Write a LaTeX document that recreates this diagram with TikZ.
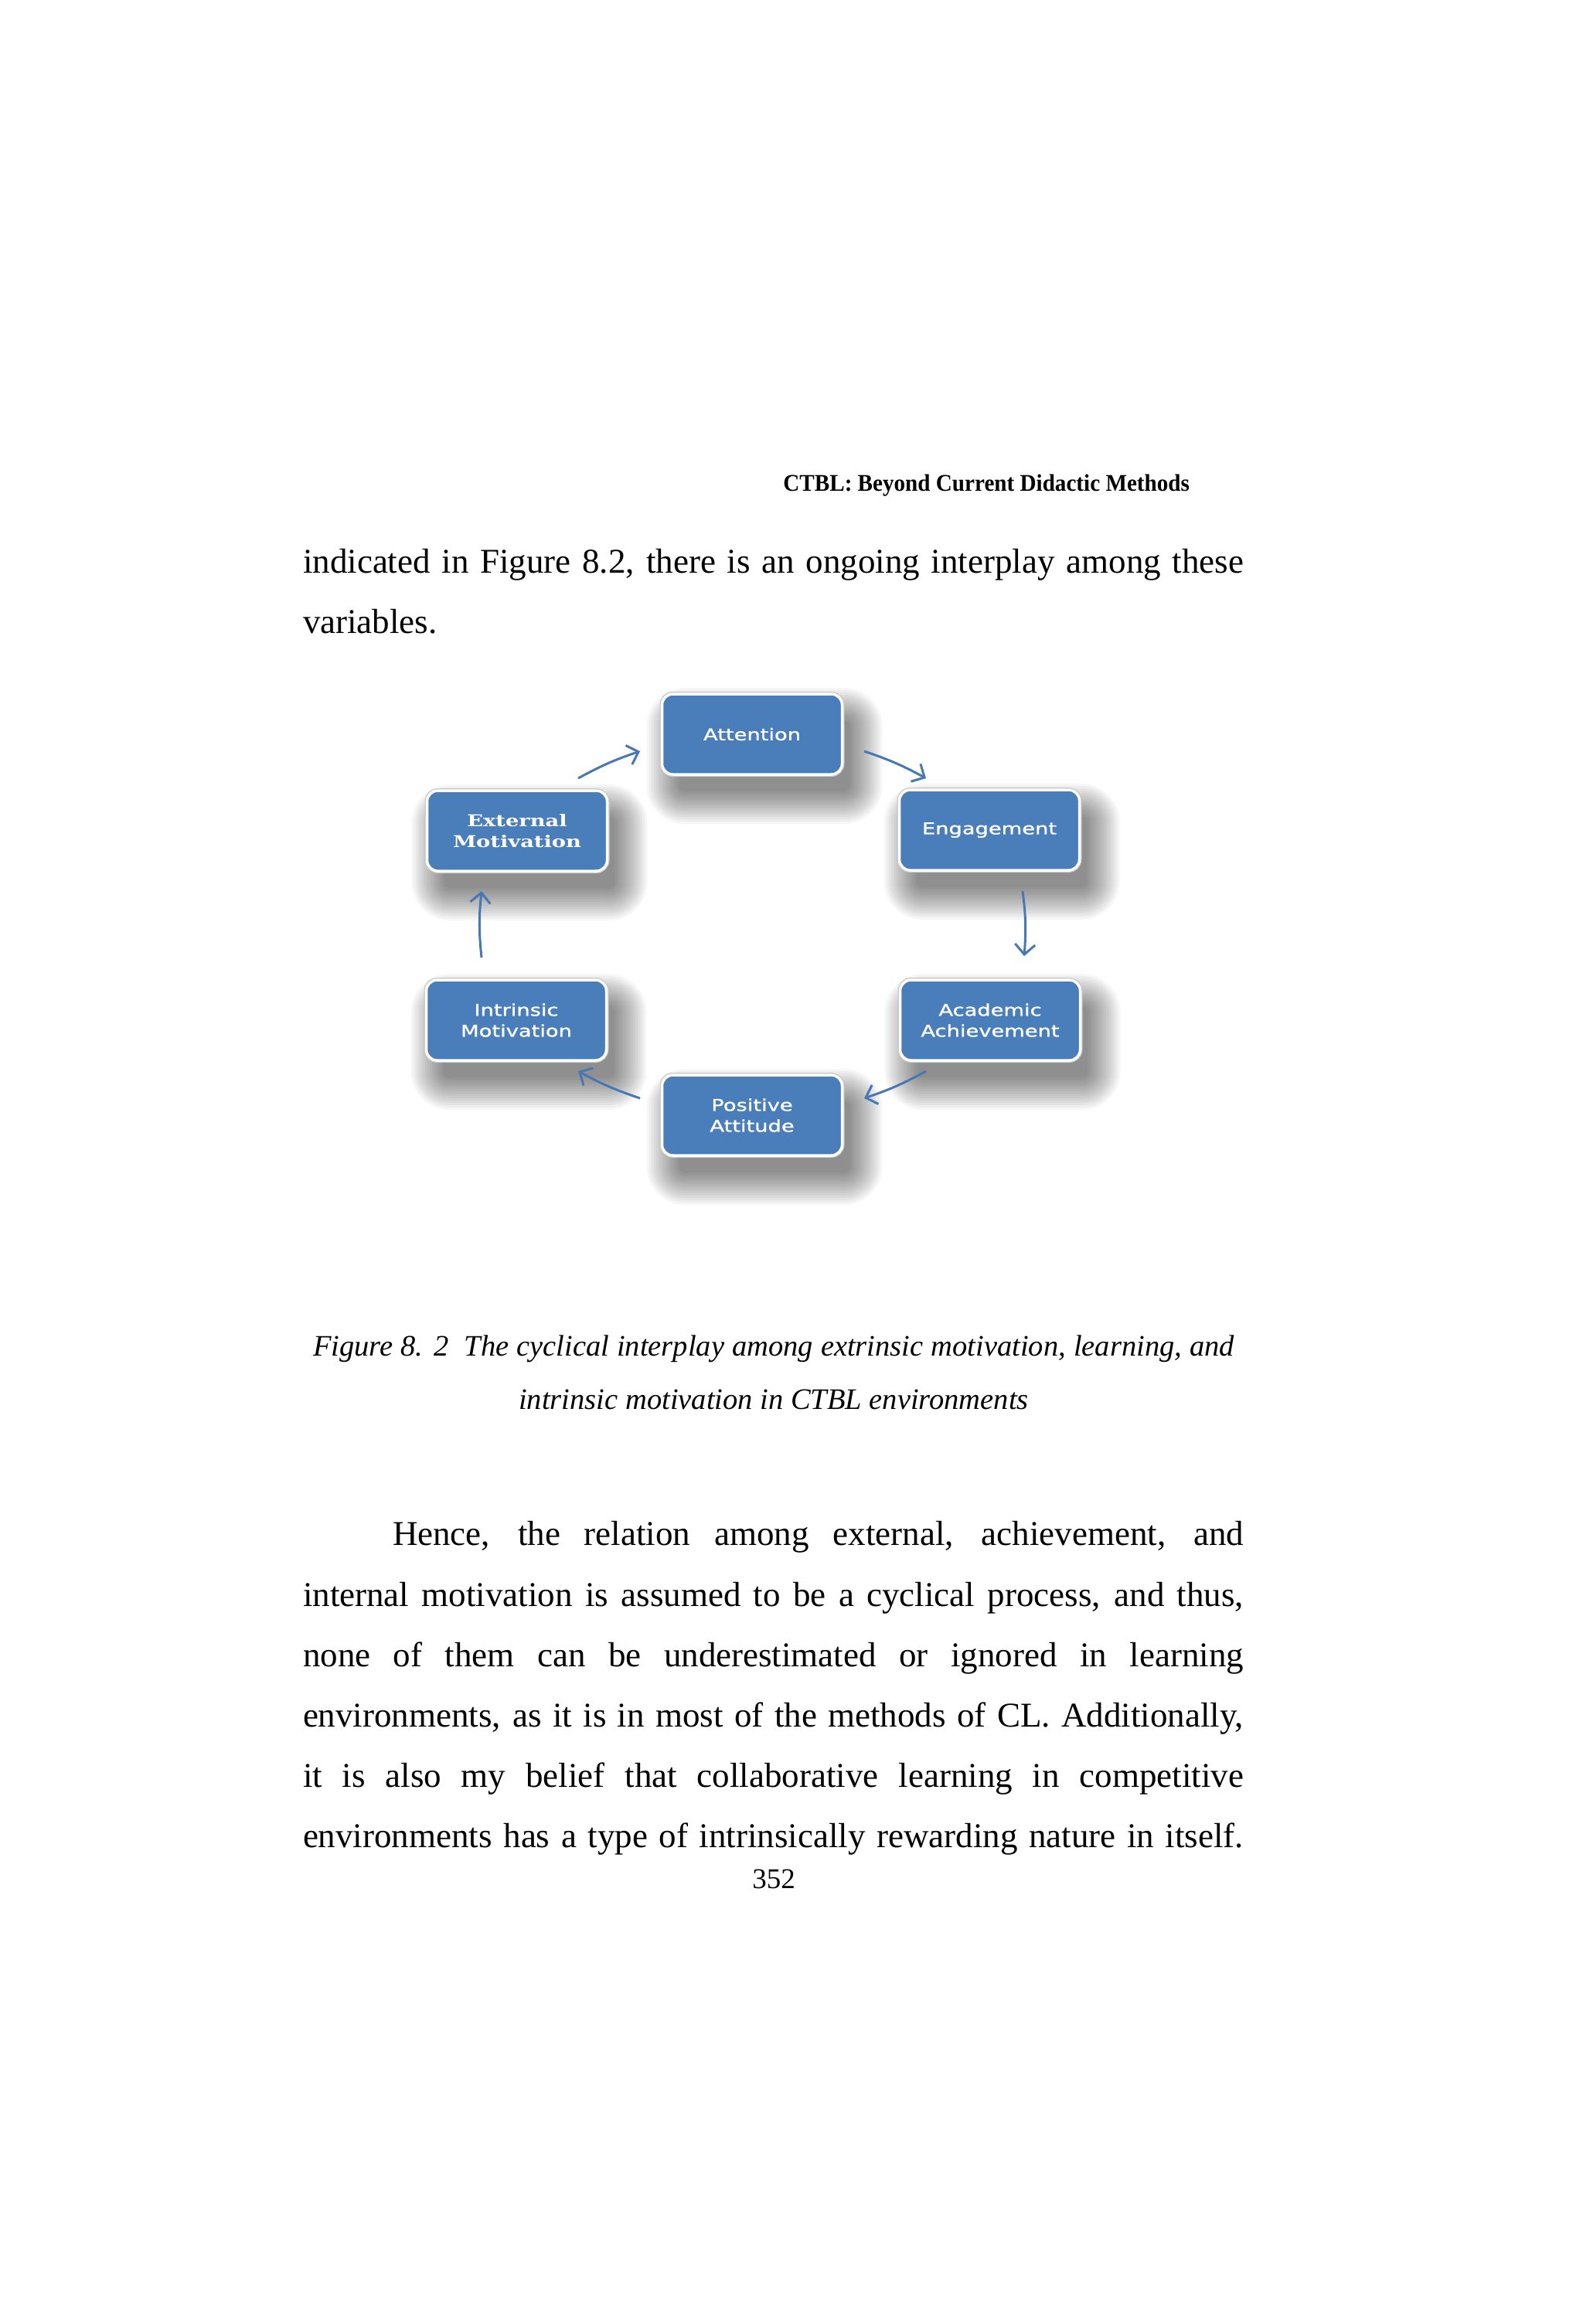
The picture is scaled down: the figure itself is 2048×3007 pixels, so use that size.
\documentclass[tikz,border=0pt]{standalone}
\usepackage{fontspec}
\setmainfont{Liberation Serif}
\newfontfamily\boxsans[FakeStretch=1.3,FakeBold=1.2]{DejaVu Sans}
\newfontfamily\boxserif[FakeStretch=1.3]{DejaVu Serif}
\newfontfamily\headfont[FakeStretch=0.94]{Liberation Serif}
\usetikzlibrary{arrows.meta}
\definecolor{boxblue}{RGB}{74,126,187}
\definecolor{arrowblue}{RGB}{72,120,180}
\pgfdeclarelayer{paper}
\pgfdeclarelayer{shade}
\pgfsetlayers{paper,shade,main}
\begin{document}
\begin{tikzpicture}[x=1pt,y=-1pt,
  every node/.style={inner sep=0pt,outer sep=0pt},
  body/.style={anchor=base west,font=\fontsize{45}{54}\selectfont},
  captext/.style={anchor=base,font=\itshape\fontsize{38.5}{46}\selectfont},
  stage/.style={rounded corners=14pt, minimum width=233pt, minimum height=104pt,
     preaction={draw=black!22, line width=6pt},
     fill=boxblue, draw=white, line width=3.5pt, text=white, align=center,
     font=\boxsans\fontsize{21}{27}\selectfont},
  shadelayer/.style={fill=black, opacity=0.035},
  cyc/.style={draw=arrowblue, line width=3pt, -{Straight Barb[length=13pt,width=26pt]}}
]
\begin{pgfonlayer}{paper}
\fill[white] (0,0) rectangle (2048,3007);
\end{pgfonlayer}
\useasboundingbox (0,0) rectangle (2048,3007);

% header
\node[anchor=base east, font=\headfont\bfseries\fontsize{31}{36}\selectfont] (hdr) at (1539,635) {CTBL: Beyond Current Didactic Methods};

% first paragraph
\node[body] (p1) at (392,741) {\makebox[1217pt][s]{indicated in Figure 8.2, there is an ongoing interplay among these}};
\node[body] (p2) at (392,819) {variables.};

% diagram
\node[stage] (att) at (973,950) {Attention};
\node[stage] (eng) at (1280,1074) {Engagement};
\node[stage] (acad) at (1281,1320) {Academic\\Achievement};
\node[stage] (pos) at (973,1443) {Positive\\Attitude};
\node[stage] (intr) at (668,1320) {Intrinsic\\Motivation};
\node[stage, font=\boxserif\bfseries\fontsize{21}{27}\selectfont] (ext) at (669,1075) {External\\Motivation};

\begin{pgfonlayer}{shade}
\foreach \n in {att,eng,acad,pos,intr,ext}{
  \foreach \e in {-6,-3,...,36}{
    \pgfmathsetmacro\rc{max(3,14+\e)}
    \fill[shadelayer, rounded corners=\rc pt]
      ([shift={(16-\e,28+\e)}]\n.south west) rectangle ([shift={(16+\e,28-\e)}]\n.north east);
  }
}
\end{pgfonlayer}

\coordinate (a1s) at (748,1007);  \coordinate (a1e) at (828,972);
\coordinate (a2s) at (1118,972);  \coordinate (a2e) at (1198,1007);
\coordinate (a3s) at (1323,1153); \coordinate (a3e) at (1325,1237);
\coordinate (a4s) at (1198,1386); \coordinate (a4e) at (1118,1421);
\coordinate (a5s) at (828,1421);  \coordinate (a5e) at (748,1386);
\coordinate (a6s) at (623,1239);  \coordinate (a6e) at (623,1153);

\draw[cyc] (a1s) to[bend left=5] (a1e);
\draw[cyc] (a2s) to[bend left=5] (a2e);
\draw[cyc] (a3s) to[bend left=6] (a3e);
\draw[cyc] (a4s) to[bend left=5] (a4e);
\draw[cyc] (a5s) to[bend left=5] (a5e);
\draw[cyc] (a6s) to[bend left=6] (a6e);

% caption
\node[captext] (cap1) at (1001,1754) {\makebox[1192pt][s]{Figure 8. 2\ \ The cyclical interplay among extrinsic motivation, learning, and}};
\node[captext] (cap2) at (1001,1823) {intrinsic motivation in CTBL environments};

% second paragraph
\node[body] (q1) at (508,1999) {\makebox[1101pt][s]{Hence, the relation among external, achievement, and}};
\node[body] (q2) at (392,2078) {\makebox[1217pt][s]{internal motivation is assumed to be a cyclical process, and thus,}};
\node[body] (q3) at (392,2156) {\makebox[1217pt][s]{none of them can be underestimated or ignored in learning}};
\node[body] (q4) at (392,2234) {\makebox[1217pt][s]{environments, as it is in most of the methods of CL. Additionally,}};
\node[body] (q5) at (392,2312) {\makebox[1217pt][s]{it is also my belief that collaborative learning in competitive}};
\node[body] (q6) at (392,2390) {\makebox[1217pt][s]{environments has a type of intrinsically rewarding nature in itself.}};

% page number
\node[anchor=base, font=\fontsize{37}{44}\selectfont] (pg) at (1001,2443) {352};
\end{tikzpicture}
\end{document}
